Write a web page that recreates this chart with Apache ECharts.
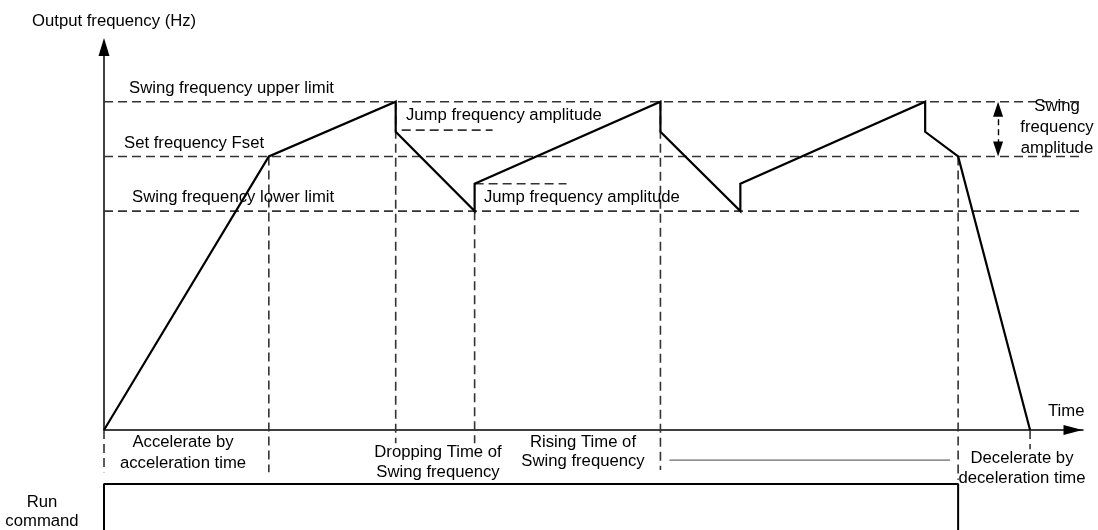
<!DOCTYPE html>
<html>
<head>
<meta charset="utf-8">
<script src="https://cdn.jsdelivr.net/npm/echarts@6/dist/echarts.min.js"></script>
<style>
html,body{margin:0;padding:0;background:#fff;}
#chart{width:1098px;height:530px;}
</style>
</head>
<body>
<div id="chart"></div>
<script>
// ---------------- data (time units / frequency units) ----------------
const outputTime = [0, 16.5, 29.2, 29.2, 37.1, 37.1, 55.7, 55.7, 63.7, 63.7, 82.2, 82.2, 85.5, 92.7];
const outputFreq = [0, 50,   60,   54.5, 40,   45,   60,   54.5, 40,   45,   60,   54.5, 50,   0];

const upperLimit = 60;
const setFreq = 50;
const lowerLimit = 40;
const levelValues = [upperLimit, setFreq, lowerLimit];

// vertical guide lines (dashed): time, top value, bottom value (below the time axis)
const guideTimes   = [0,    16.5, 29.2, 37.1, 55.7, 85.5, 92.7];
const guideTops    = [0,    50,   60,   40,   60,   50,   0];
const guideBottoms = [-7.7, -7.7, -2.4, -2.4, -7.3, -9.1, -3.5];

// short "jump frequency amplitude" reference lines
const jumpRefStart = [29.8, 37.1];
const jumpRefEnd   = [38.9, 46.3];
const jumpRefFreq  = [54.8, 45];

// swing frequency amplitude double arrow
const ampArrowTime = 89.5;

// leader line under "Rising Time of Swing frequency"
const leaderStart = 56.6, leaderEnd = 84.7, leaderLevel = -5.5;

// run command signal
const runTime  = [0, 0, 85.5, 85.5];
const runLevel = [0, 1, 1, 0];

const timeMax = 98;
const freqMax = 70;

// ---------------- chart ----------------
const FONT = '16.7px "Liberation Sans", Arial, sans-serif';
const DASH_COLOR = '#333333';
const dashStyle = {color: DASH_COLOR, width: 1.6, type: [9, 5]};

const series = [];

// horizontal level lines
levelValues.forEach(function (v) {
  series.push({
    type: 'line', xAxisIndex: 0, yAxisIndex: 0, symbol: 'none', silent: true, clip: false,
    lineStyle: dashStyle, z: 1,
    data: [[0, v], [timeMax, v]]
  });
});

// vertical guides
guideTimes.forEach(function (t, i) {
  series.push({
    type: 'line', xAxisIndex: 0, yAxisIndex: 0, symbol: 'none', silent: true, clip: false,
    lineStyle: dashStyle, z: 1,
    data: [[t, guideTops[i]], [t, guideBottoms[i]]]
  });
});

// jump amplitude reference lines
jumpRefFreq.forEach(function (v, i) {
  series.push({
    type: 'line', xAxisIndex: 0, yAxisIndex: 0, symbol: 'none', silent: true, clip: false,
    lineStyle: dashStyle, z: 1,
    data: [[jumpRefStart[i], v], [jumpRefEnd[i], v]]
  });
});

// leader line
series.push({
  type: 'line', xAxisIndex: 0, yAxisIndex: 0, symbol: 'none', silent: true, clip: false,
  lineStyle: {color: '#444', width: 1}, z: 1,
  data: [[leaderStart, leaderLevel], [leaderEnd, leaderLevel]]
});

// swing amplitude double arrow
series.push({
  type: 'line', xAxisIndex: 0, yAxisIndex: 0, symbol: 'none', silent: true, clip: false,
  data: [],
  markLine: {
    silent: true, animation: false,
    symbol: ['triangle', 'triangle'], symbolSize: [10, 15],
    label: {show: false},
    lineStyle: {color: '#000', width: 1.4, type: [6, 4]},
    data: [[{coord: [ampArrowTime, upperLimit - 1.37]}, {coord: [ampArrowTime, setFreq + 1.37]}]]
  }
});

// output frequency curve
series.push({
  type: 'line', xAxisIndex: 0, yAxisIndex: 0, symbol: 'none', silent: true, clip: false,
  lineStyle: {color: '#000', width: 2.2, join: 'miter'}, z: 5,
  data: outputTime.map(function (t, i) { return [t, outputFreq[i]]; })
});

// run command
series.push({
  type: 'line', xAxisIndex: 1, yAxisIndex: 1, symbol: 'none', silent: true, clip: false,
  lineStyle: {color: '#000', width: 2}, z: 5,
  data: runTime.map(function (t, i) { return [t, runLevel[i]]; })
});

function txt(text, x, y, align, lineHeight) {
  return {
    type: 'text', x: x, y: y, silent: true, z: 10,
    style: {
      text: text, font: FONT, fill: '#000',
      align: align || 'left', verticalAlign: 'middle',
      lineHeight: lineHeight || 20
    }
  };
}

const option = {
  animation: false,
  backgroundColor: '#fff',
  grid: [
    {left: 104, right: 15, top: 47, bottom: 100, containLabel: false},
    {left: 104, right: 15, top: 484, bottom: 0, containLabel: false}
  ],
  xAxis: [
    {
      type: 'value', gridIndex: 0, min: 0, max: timeMax,
      axisLine: {show: true, onZero: false, symbol: ['none', 'triangle'], symbolSize: [10, 19], symbolOffset: [0, -10],
                 lineStyle: {color: '#000', width: 1.5}},
      axisTick: {show: false}, axisLabel: {show: false}, splitLine: {show: false}
    },
    {
      type: 'value', gridIndex: 1, min: 0, max: timeMax, show: false
    }
  ],
  yAxis: [
    {
      type: 'value', gridIndex: 0, min: 0, max: freqMax,
      axisLine: {show: true, onZero: false, symbol: ['none', 'triangle'], symbolSize: [11, 18],
                 lineStyle: {color: '#000', width: 1.5}},
      axisTick: {show: false}, axisLabel: {show: false}, splitLine: {show: false}
    },
    {
      type: 'value', gridIndex: 1, min: 0, max: 1, show: false
    }
  ],
  series: series,
  graphic: [
    txt('Output frequency (Hz)', 32, 21),
    txt('Swing frequency upper limit', 129, 88),
    txt('Set frequency Fset', 124, 143),
    txt('Swing frequency lower limit', 132, 197),
    txt('Jump frequency amplitude', 406, 115),
    txt('Jump frequency amplitude', 484, 197),
    txt('Swing\nfrequency\namplitude', 1057, 127, 'center', 21),
    txt('Time', 1048, 411),
    txt('Accelerate by\nacceleration time', 183, 453, 'center', 21),
    txt('Dropping Time of\nSwing frequency', 438, 462, 'center', 20),
    txt('Rising Time of\nSwing frequency', 583, 452, 'center', 19),
    txt('Decelerate by\ndeceleration time', 1022, 468, 'center', 20),
    txt('Run\ncommand', 42, 512, 'center', 19)
  ]
};

const chart = echarts.init(document.getElementById('chart'), null, {renderer: 'canvas'});
chart.setOption(option);
</script>
</body>
</html>
